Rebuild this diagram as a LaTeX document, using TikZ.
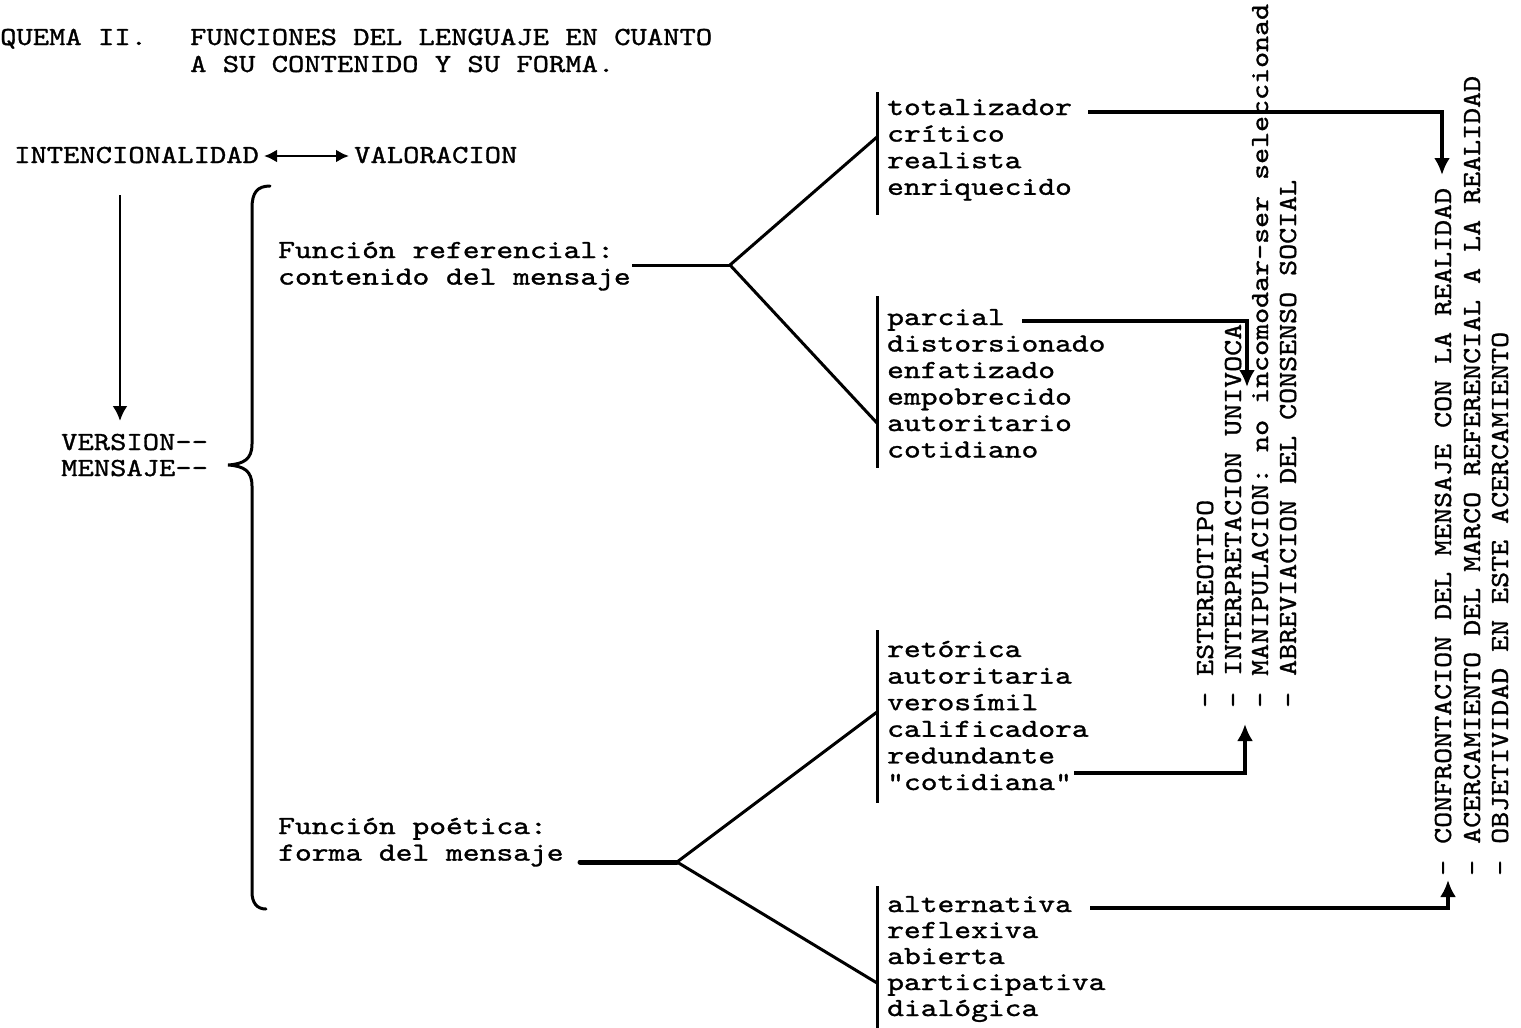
\documentclass[tikz,border=0pt]{standalone}
\usepackage{fontspec}
\newfontfamily\twH[FakeStretch=1.23,FakeBold=1.2]{lmmono10-regular.otf}
\newfontfamily\twL[FakeStretch=1.195,FakeBold=1.2]{lmmono10-regular.otf}
\newfontfamily\twV[FakeStretch=1.172,FakeBold=1.2]{lmmono10-regular.otf}
\usetikzlibrary{arrows.meta}
\tikzset{
  txt/.style={inner sep=0pt, anchor=base west, font=\twH\fontsize{26}{26.6}\selectfont},
  ltxt/.style={txt, font=\twL\fontsize{26}{26.6}\selectfont},
  vtxt/.style={inner sep=0pt, anchor=base west, rotate=90, font=\twV\fontsize{26}{26}\selectfont},
  bar/.style={line width=3pt},
  branch/.style={line width=3pt},
  conn/.style={line width=3.8pt, -{Latex[length=17pt,width=16pt]}},
  dbl/.style={line width=2.8pt, {Latex[length=13pt,width=13pt]}-{Latex[length=13pt,width=13pt]}},
  bracestyle/.style={line width=3pt, line cap=round},
}
\begin{document}
\begin{tikzpicture}[x=1pt,y=-1pt]
\useasboundingbox (0,0) rectangle (1521,1028);
% title
\node[ltxt] (t1) at (0,45) {QUEMA II.};
\node[ltxt] (t2) at (190,45) {FUNCIONES DEL LENGUAJE EN CUANTO};
\node[ltxt] (t3) at (190,72) {A SU CONTENIDO Y SU FORMA.};
% left part
\node[ltxt] (int) at (14,163) {INTENCIONALIDAD};
\node[ltxt] (val) at (354,163) {VALORACION};
\coordinate (da) at (264,156);
\coordinate (db) at (349,156);
\draw[dbl] (da) -- (db);
\coordinate (va) at (120,195);
\coordinate (vb) at (120,421);
\draw[line width=2.8pt, -{Latex[length=15pt,width=15pt]}] (va) -- (vb);
\node[ltxt] (ver) at (61,450) {VERSION--};
\node[ltxt] (men) at (61,476) {MENSAJE--};
% brace
\draw[bracestyle] (270,186) .. controls (257,186) and (252,193) .. (252,208)
  -- (252,444) .. controls (252,459) and (244,464) .. (228,465)
  .. controls (244,466) and (252,471) .. (252,486)
  -- (252,892) .. controls (252,903) and (257,909) .. (266,909);
% referencial
\node[txt] (ref) at (278,258) {Función referencial:};
\node[txt] (con) at (278,284.6) {contenido del mensaje};
\coordinate (rs) at (632,265);
\coordinate (rb) at (730,265);
\coordinate (r1) at (877,137);
\coordinate (r2) at (877,423);
\draw[branch] (rs) -- (rb);
\draw[branch] (r1) -- (rb) -- (r2);
% poetica
\node[txt] (poe) at (278,834) {Función poética:};
\node[txt] (for) at (278,860.6) {forma del mensaje};
\coordinate (ps) at (580,862);
\coordinate (pb) at (677,862);
\coordinate (p1) at (877,712);
\coordinate (p2) at (877,983);
\draw[line width=5pt, line cap=round] (ps) -- (pb);
\draw[branch] (p1) -- (pb) -- (p2);
% bars
\draw[bar] (877,92) -- (877,215);
\draw[bar] (877,296) -- (877,468);
\draw[bar] (877,630) -- (877,803);
\draw[bar] (877,886) -- (877,1030);
% lists
\node[txt] (tot) at (887,115) {totalizador};
\node[txt] (cri) at (887,141.6) {crítico};
\node[txt] (rea) at (887,168.2) {realista};
\node[txt] (enr) at (887,194.8) {enriquecido};
\node[txt] (par) at (887,325) {parcial};
\node[txt] (dis) at (887,351.5) {distorsionado};
\node[txt] (enf) at (887,378) {enfatizado};
\node[txt] (emp) at (887,404.5) {empobrecido};
\node[txt] (aut) at (887,431) {autoritario};
\node[txt] (cot) at (887,457.5) {cotidiano};
\node[txt] (ret) at (887,657) {retórica};
\node[txt] (aua) at (887,683.6) {autoritaria};
\node[txt] (ver2) at (887,710.2) {verosímil};
\node[txt] (cal) at (887,736.8) {calificadora};
\node[txt] (red) at (887,763.4) {redundante};
\node[txt] (cta) at (887,790) {"cotidiana"};
\node[txt] (alt) at (887,912) {alternativa};
\node[txt] (ref2) at (887,938) {reflexiva};
\node[txt] (abi) at (887,964) {abierta};
\node[txt] (pat) at (887,990) {participativa};
\node[txt] (dia) at (887,1016) {dialógica};
% vertical texts group A
\node[vtxt] (va1) at (1213,708) {- ESTEREOTIPO};
\node[vtxt] (va2) at (1241,708) {- INTERPRETACION UNIVOCA};
\node[vtxt] (va3) at (1268,708) {- MANIPULACION: no incomodar-ser seleccionad};
\node[vtxt] (va4) at (1296,708) {- ABREVIACION DEL CONSENSO SOCIAL};
% vertical texts group B
\node[vtxt] (vb1) at (1451,876) {- CONFRONTACION DEL MENSAJE CON LA REALIDAD};
\node[vtxt] (vb2) at (1480,876) {- ACERCAMIENTO DEL MARCO REFERENCIAL A LA REALIDAD};
\node[vtxt] (vb3) at (1508,876) {- OBJETIVIDAD EN ESTE ACERCAMIENTO};
% connectors
\coordinate (c1s) at (1088,112);
\coordinate (c1e) at (1442,175);
\draw[conn] (c1s) -| (c1e);
\coordinate (c2s) at (1022,321);
\coordinate (c2e) at (1247,387);
\draw[conn] (c2s) -| (c2e);
\coordinate (c3s) at (1074,773);
\coordinate (c3e) at (1245,724);
\draw[conn] (c3s) -| (c3e);
\coordinate (c4s) at (1090,908);
\coordinate (c4e) at (1448,880);
\draw[conn] (c4s) -| (c4e);
\end{tikzpicture}
\end{document}
